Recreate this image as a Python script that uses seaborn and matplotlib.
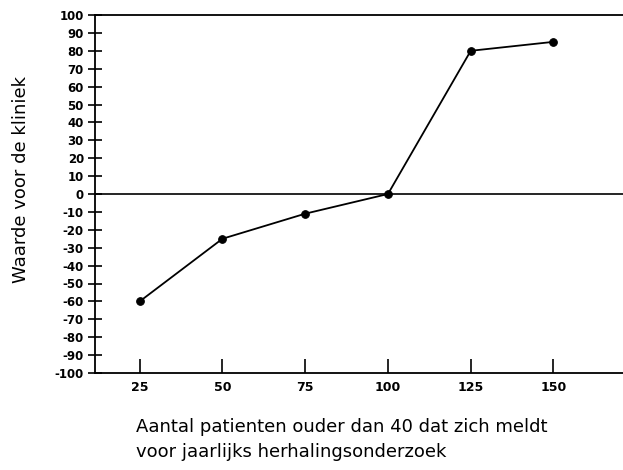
import matplotlib
matplotlib.use("Agg")
import matplotlib.pyplot as plt
import seaborn as sns
import pandas as pd

patients = [25, 50, 75, 100, 125, 150]
value = [-60, -25, -11, 0, 80, 85]
yticks = list(range(-100, 101, 10))
xticks = [25, 50, 75, 100, 125, 150]

sns.set_theme(style="white")
plt.rcParams['font.family'] = ['DejaVu Sans']
plt.rcParams['text.color'] = 'black'
plt.rcParams['axes.labelcolor'] = 'black'
plt.rcParams['xtick.color'] = 'black'
plt.rcParams['ytick.color'] = 'black'

fig = plt.figure(figsize=(6.23, 4.70), dpi=100)
ax = fig.add_axes([95/623, 1 - 373/470, 1 - 95/623, 358/470])

df = pd.DataFrame({"x": patients, "y": value})
sns.lineplot(data=df, x="x", y="y", ax=ax, color="black", marker="o",
             markersize=5.5, markeredgecolor="black", linewidth=1.3)
ax.axhline(0, color="black", linewidth=1.2)

ax.set_xlim(11.5, 171)
ax.set_ylim(-100, 100)
ax.set_xticks(xticks)
ax.set_yticks(yticks)
ax.set_xticklabels([str(t) for t in xticks], fontsize=9, fontweight="bold")
ax.set_yticklabels([str(t) for t in yticks], fontsize=8.5, fontweight="bold")
ax.tick_params(axis="y", direction="inout", length=10, width=1.2, color="black", pad=3, left=True)
ax.tick_params(axis="x", direction="in", length=10, width=1.2, color="black", pad=6, bottom=True)

for s in ["left", "bottom", "top"]:
    ax.spines[s].set_visible(True)
    ax.spines[s].set_color("black")
    ax.spines[s].set_linewidth(1.3)
ax.spines["right"].set_visible(False)

ax.set_ylabel("Waarde voor de kliniek", fontsize=13, color="black")
ax.yaxis.set_label_coords(-0.123, 0.54)
ax.set_xlabel("Aantal patienten ouder dan 40 dat zich meldt\nvoor jaarlijks herhalingsonderzoek",
              fontsize=13, multialignment="left", linespacing=1.55, color="black")
ax.xaxis.set_label_coords(0.468, -0.125)
ax.xaxis.label.set_verticalalignment("top")

fig.savefig("out.png", dpi=100)
